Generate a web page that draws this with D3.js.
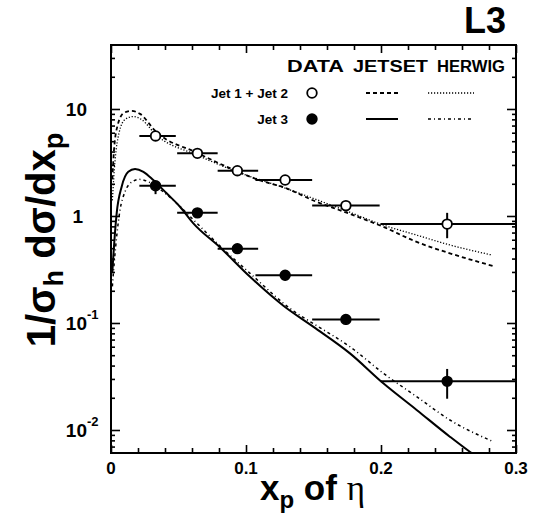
<!DOCTYPE html>
<html><head><meta charset="utf-8">
<script src="https://cdn.jsdelivr.net/npm/d3@7"></script>
<style>body{margin:0;background:#fff}svg{display:block}</style>
</head><body><svg id="c" width="537" height="524"></svg>
<script>
// ---------- data ----------
const xTickValues = [0, 0.1, 0.2, 0.3];
const xTickLabels = ["0", "0.1", "0.2", "0.3"];
const xMinorTicks = [0.02,0.04,0.06,0.08,0.12,0.14,0.16,0.18,0.22,0.24,0.26,0.28];
const yTickValues = [10, 1, 0.1, 0.01];
const yTickBase = ["10", "1", "10", "10"];
const yTickExp = ["", "", "-1", "-2"];

const binX   = [0.033, 0.064, 0.0936, 0.129, 0.174, 0.249];
const binLo  = [0.021, 0.049, 0.079, 0.107, 0.149, 0.200];
const binHi  = [0.048, 0.079, 0.109, 0.149, 0.199, 0.300];

const jet12Y   = [5.6, 3.85, 2.65, 2.17, 1.25, 0.84];
const jet12YLo = [5.2, 3.65, 2.5, 1.95, 1.15, 0.62];
const jet12YHi = [6.0, 4.05, 2.8, 2.4, 1.35, 1.07];

const jet3Y   = [1.92, 1.07, 0.495, 0.279, 0.108, 0.0285];
const jet3YLo = [1.6, 0.97, 0.45, 0.25, 0.096, 0.0196];
const jet3YHi = [2.1, 1.17, 0.54, 0.31, 0.12, 0.0372];

const jetsetJet12X = [0.001, 0.0022, 0.005, 0.0095, 0.015, 0.0215, 0.033, 0.064, 0.093, 0.108, 0.129, 0.152, 0.174, 0.2015, 0.226, 0.251, 0.283];
const jetsetJet12Y = [2.2, 4.1, 7.1, 9.2, 9.6, 9.0, 6.2, 3.88, 2.63, 2.2, 1.83, 1.36, 1.08, 0.794, 0.575, 0.448, 0.341];

const herwigJet12X = [0.001, 0.003, 0.006, 0.0105, 0.0165, 0.023, 0.033, 0.064, 0.093, 0.129, 0.174, 0.2015, 0.226, 0.251, 0.282];
const herwigJet12Y = [1.4, 3.3, 6.0, 8.0, 8.5, 7.9, 5.8, 3.7, 2.6, 1.82, 1.12, 0.824, 0.665, 0.536, 0.432];

const jetsetJet3X = [0.001, 0.0017, 0.0042, 0.0079, 0.0128, 0.0178, 0.024, 0.0313, 0.0412, 0.0511, 0.061, 0.0807, 0.103, 0.1277, 0.15, 0.177, 0.2017, 0.2264, 0.251, 0.266, 0.275];
const jetsetJet3Y = [0.3, 0.416, 1.06, 1.88, 2.59, 2.75, 2.59, 2.17, 1.63, 1.22, 0.854, 0.51, 0.27, 0.145, 0.092, 0.052, 0.0273, 0.0154, 0.00866, 0.00623, 0.0052];

const herwigJet3X = [0.001, 0.0025, 0.0065, 0.0105, 0.016, 0.021, 0.029, 0.037, 0.046, 0.0637, 0.081, 0.103, 0.135, 0.152, 0.177, 0.2017, 0.2264, 0.251, 0.283];
const herwigJet3Y = [0.22, 0.38, 1.1, 1.7, 2.1, 2.2, 2.05, 1.75, 1.41, 0.854, 0.52, 0.291, 0.13, 0.095, 0.06, 0.0339, 0.0205, 0.0124, 0.0078];

// ---------- drawing ----------
const svg = d3.select("#c");
const L = 111, R = 516, T = 45, B = 453;
const x = d3.scaleLinear().domain([0, 0.3]).range([L, R]);
const y = d3.scaleLog().domain([Math.pow(10, -2.215), Math.pow(10, 1.598)]).range([B, T]);
const font = "'Liberation Sans', Arial, Helvetica, sans-serif";

svg.append("clipPath").attr("id", "clip").append("rect")
  .attr("x", L).attr("y", T).attr("width", R - L).attr("height", B - T);

function styleAxis(g) { g.select(".domain").remove(); g.selectAll("line").attr("stroke", "#000").attr("stroke-width", 1.6); }
svg.append("g").attr("transform", `translate(0,${B})`)
  .call(d3.axisBottom(x).tickValues(xTickValues).tickSize(-8).tickFormat(""))
  .call(styleAxis);
svg.append("g").attr("transform", `translate(0,${B})`)
  .call(d3.axisBottom(x).tickValues(xMinorTicks).tickSize(-5).tickFormat(""))
  .call(styleAxis);
svg.append("g").attr("transform", `translate(0,${T})`)
  .call(d3.axisTop(x).tickValues(xTickValues).tickSize(-8).tickFormat(""))
  .call(styleAxis);
svg.append("g").attr("transform", `translate(0,${T})`)
  .call(d3.axisTop(x).tickValues(xMinorTicks).tickSize(-5).tickFormat(""))
  .call(styleAxis);

const yMinor = [];
[0.001, 0.01, 0.1, 1, 10].forEach(d => { for (let k = 2; k <= 9; k++) { const v = d * k; if (v > y.domain()[0] && v < y.domain()[1]) yMinor.push(v); } });
svg.append("g").attr("transform", `translate(${L},0)`)
  .call(d3.axisLeft(y).tickValues(yTickValues).tickSize(-9).tickFormat(""))
  .call(styleAxis);
svg.append("g").attr("transform", `translate(${L},0)`)
  .call(d3.axisLeft(y).tickValues(yMinor).tickSize(-4).tickFormat(""))
  .call(styleAxis);
svg.append("g").attr("transform", `translate(${R},0)`)
  .call(d3.axisRight(y).tickValues(yTickValues).tickSize(-9).tickFormat(""))
  .call(styleAxis);
svg.append("g").attr("transform", `translate(${R},0)`)
  .call(d3.axisRight(y).tickValues(yMinor).tickSize(-4).tickFormat(""))
  .call(styleAxis);

svg.append("rect").attr("x", L).attr("y", T).attr("width", R - L).attr("height", B - T)
  .attr("fill", "none").attr("stroke", "#000").attr("stroke-width", 2);

svg.append("g").selectAll("text").data(xTickValues).join("text")
  .attr("x", d => x(d)).attr("y", B + 21).attr("text-anchor", "middle")
  .attr("font-family", font).attr("font-weight", "bold").attr("font-size", 17)
  .text((d, i) => xTickLabels[i]);

const yl = svg.append("g").selectAll("g").data(yTickValues).join("g");
yl.append("text").attr("x", (d, i) => yTickBase[i].length > 1 ? 87 : 83)
  .attr("y", d => y(d) + 7).attr("text-anchor", "end")
  .attr("font-family", font).attr("font-weight", "bold").attr("font-size", 19)
  .text((d, i) => yTickBase[i]);
yl.append("text").attr("x", 87).attr("y", d => y(d) - 4)
  .attr("font-family", font).attr("font-weight", "bold").attr("font-size", 13)
  .text((d, i) => yTickExp[i]);

const plot = svg.append("g").attr("clip-path", "url(#clip)");
const line = d3.line().x(d => x(d[0])).y(d => y(d[1])).curve(d3.curveMonotoneX);
const curves = [
  { xs: jetsetJet12X, ys: jetsetJet12Y, dash: "4,3", w: 1.8 },
  { xs: herwigJet12X, ys: herwigJet12Y, dash: "1.2,1.8", w: 1.3 },
  { xs: jetsetJet3X, ys: jetsetJet3Y, dash: null, w: 2 },
  { xs: herwigJet3X, ys: herwigJet3Y, dash: "3,3,1,3", w: 1.5 }
];
curves.forEach(c => {
  plot.append("path").datum(c.xs.map((v, i) => [v, c.ys[i]]))
    .attr("d", line).attr("fill", "none").attr("stroke", "#000")
    .attr("stroke-width", c.w).attr("stroke-dasharray", c.dash);
});

function drawData(ys, lo, hi, filled) {
  const g = plot.append("g");
  binX.forEach((bx, i) => {
    g.append("line").attr("x1", x(binLo[i])).attr("x2", x(binHi[i]))
      .attr("y1", y(ys[i])).attr("y2", y(ys[i])).attr("stroke", "#000").attr("stroke-width", 2);
    g.append("line").attr("x1", x(bx)).attr("x2", x(bx))
      .attr("y1", y(lo[i])).attr("y2", y(hi[i])).attr("stroke", "#000").attr("stroke-width", 2);
    g.append("circle").attr("cx", x(bx)).attr("cy", y(ys[i])).attr("r", 4.8)
      .attr("fill", filled ? "#000" : "#fff").attr("stroke", "#000").attr("stroke-width", 1.8);
  });
}
drawData(jet12Y, jet12YLo, jet12YHi, false);
drawData(jet3Y, jet3YLo, jet3YHi, true);

// legend
const hdr = [["DATA", 287, 57], ["JETSET", 353, 75], ["HERWIG", 437, 68]];
hdr.forEach(h => svg.append("text").attr("x", h[1]).attr("y", 72)
  .attr("font-family", font).attr("font-weight", "bold").attr("font-size", 16)
  .attr("textLength", h[2]).attr("lengthAdjust", "spacingAndGlyphs").text(h[0]));
const rows = [["Jet 1 + Jet 2", 93, false, "4,3", 1.8, "1.2,1.8", 1.3], ["Jet 3", 119, true, null, 2, "3,3,1,3", 1.5]];
rows.forEach(r => {
  svg.append("text").attr("x", 288).attr("y", r[1] + 5).attr("text-anchor", "end")
    .attr("font-family", font).attr("font-weight", "bold").attr("font-size", 13.5).text(r[0]);
  svg.append("circle").attr("cx", 312).attr("cy", r[1]).attr("r", 4.8)
    .attr("fill", r[2] ? "#000" : "#fff").attr("stroke", "#000").attr("stroke-width", 1.8);
  svg.append("line").attr("x1", 366).attr("x2", 398).attr("y1", r[1]).attr("y2", r[1])
    .attr("stroke", "#000").attr("stroke-width", r[4]).attr("stroke-dasharray", r[3]);
  svg.append("line").attr("x1", 428).attr("x2", 474).attr("y1", r[1]).attr("y2", r[1])
    .attr("stroke", "#000").attr("stroke-width", r[6]).attr("stroke-dasharray", r[5]);
});

svg.append("text").attr("x", 506).attr("y", 33).attr("text-anchor", "end")
  .attr("font-family", font).attr("font-weight", "bold").attr("font-size", 36).text("L3");

const yt = svg.append("text").attr("transform", "translate(55,240) rotate(-90)")
  .attr("text-anchor", "middle").attr("font-family", font).attr("font-weight", "bold").attr("font-size", 40);
yt.append("tspan").text("1/σ");
yt.append("tspan").attr("font-size", 27).attr("dy", 8).text("h");
yt.append("tspan").attr("dy", -8).text(" dσ/dx");
yt.append("tspan").attr("font-size", 27).attr("dy", 8).text("p");

const xt = svg.append("text").attr("x", 260).attr("y", 500)
  .attr("font-family", font).attr("font-weight", "bold").attr("font-size", 35);
xt.append("tspan").text("x");
xt.append("tspan").attr("font-size", 24).attr("dy", 8).text("p");
xt.append("tspan").attr("dy", -8).text(" of ");
xt.append("tspan").attr("font-family", "'Liberation Serif', 'Times New Roman', serif").attr("font-weight", "normal").text("η");
</script></body></html>
